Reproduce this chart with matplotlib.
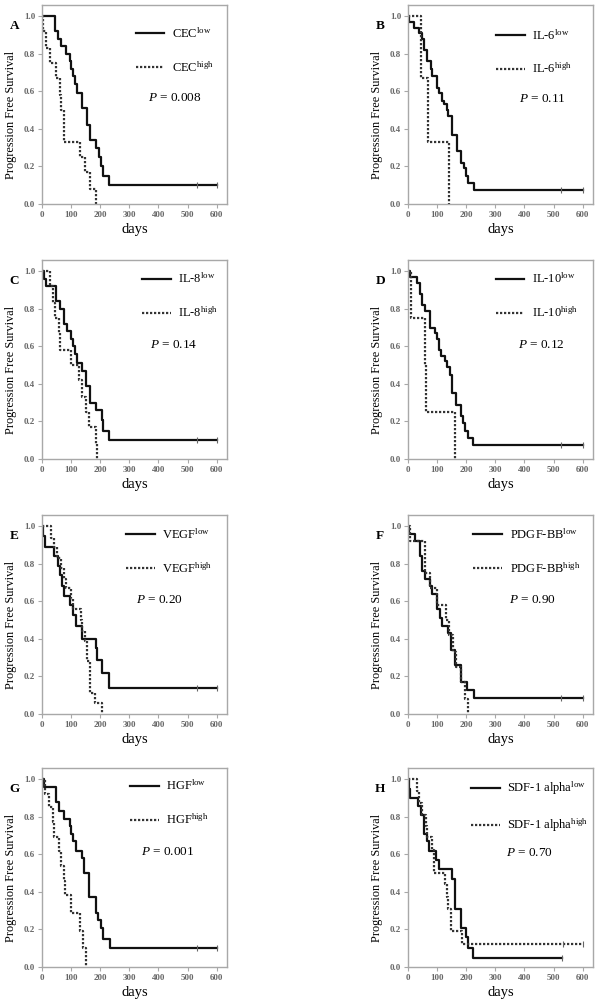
import numpy as np
import matplotlib
matplotlib.use("Agg")
import matplotlib.pyplot as plt

# ---- data (days, progression free survival) ----
CEC_LOW_DAYS = [0, 44, 55, 66, 84, 97, 101, 105, 112, 120, 139, 153, 166, 187, 195, 204, 210, 229, 600]
CEC_LOW_PFS = [1.0, 0.92, 0.88, 0.84, 0.80, 0.76, 0.72, 0.68, 0.64, 0.59, 0.51, 0.42, 0.34, 0.30, 0.25, 0.20, 0.15, 0.10, 0.10]
CEC_HIGH_DAYS = [0, 3, 15, 26, 49, 61, 67, 75, 130, 149, 164, 185]
CEC_HIGH_PFS = [1.0, 0.92, 0.83, 0.75, 0.67, 0.58, 0.50, 0.33, 0.25, 0.17, 0.08, 0.0]

IL6_LOW_DAYS = [0, 5, 20, 37, 48, 54, 65, 79, 84, 99, 105, 116, 122, 133, 138, 150, 167, 183, 191, 200, 206, 228, 600]
IL6_LOW_PFS = [1.0, 0.97, 0.94, 0.91, 0.88, 0.82, 0.76, 0.72, 0.68, 0.62, 0.59, 0.55, 0.53, 0.50, 0.47, 0.37, 0.28, 0.22, 0.19, 0.15, 0.11, 0.075, 0.075]
IL6_HIGH_DAYS = [0, 43, 68, 142]
IL6_HIGH_PFS = [1.0, 0.67, 0.33, 0.0]

IL8_LOW_DAYS = [0, 7, 15, 49, 63, 75, 86, 100, 105, 113, 120, 137, 151, 165, 185, 205, 211, 230, 600]
IL8_LOW_PFS = [1.0, 0.96, 0.92, 0.84, 0.80, 0.72, 0.68, 0.64, 0.60, 0.56, 0.51, 0.47, 0.39, 0.30, 0.26, 0.21, 0.15, 0.10, 0.10]
IL8_HIGH_DAYS = [0, 29, 37, 43, 57, 63, 100, 128, 137, 151, 162, 185, 190]
IL8_HIGH_PFS = [1.0, 0.92, 0.83, 0.75, 0.67, 0.58, 0.50, 0.42, 0.33, 0.25, 0.17, 0.08, 0.0]

IL10_LOW_DAYS = [0, 6, 32, 40, 49, 60, 77, 94, 100, 106, 115, 128, 134, 145, 151, 165, 183, 188, 197, 206, 225, 600]
IL10_LOW_PFS = [1.0, 0.97, 0.94, 0.88, 0.82, 0.79, 0.70, 0.67, 0.64, 0.58, 0.55, 0.52, 0.49, 0.45, 0.35, 0.29, 0.23, 0.19, 0.15, 0.11, 0.075, 0.075]
IL10_HIGH_DAYS = [0, 11, 60, 62, 162]
IL10_HIGH_PFS = [1.0, 0.75, 0.50, 0.25, 0.0]

VEGF_LOW_DAYS = [0, 5, 11, 42, 54, 63, 68, 76, 97, 105, 116, 139, 184, 190, 205, 230, 600]
VEGF_LOW_PFS = [1.0, 0.95, 0.89, 0.84, 0.79, 0.74, 0.68, 0.63, 0.58, 0.53, 0.47, 0.40, 0.35, 0.29, 0.22, 0.14, 0.14]
VEGF_HIGH_DAYS = [0, 31, 42, 51, 65, 74, 82, 99, 105, 133, 139, 148, 155, 164, 181, 207]
VEGF_HIGH_PFS = [1.0, 0.94, 0.89, 0.83, 0.78, 0.72, 0.67, 0.61, 0.56, 0.50, 0.44, 0.39, 0.28, 0.11, 0.06, 0.0]

PDGF_LOW_DAYS = [0, 5, 25, 40, 49, 60, 77, 83, 98, 100, 109, 116, 139, 149, 162, 181, 202, 228, 600]
PDGF_LOW_PFS = [1.0, 0.96, 0.92, 0.84, 0.76, 0.72, 0.68, 0.64, 0.60, 0.56, 0.51, 0.47, 0.43, 0.34, 0.26, 0.17, 0.13, 0.085, 0.085]
PDGF_HIGH_DAYS = [0, 8, 60, 77, 98, 129, 141, 153, 164, 181, 195, 205]
PDGF_HIGH_PFS = [1.0, 0.92, 0.75, 0.67, 0.58, 0.50, 0.42, 0.33, 0.25, 0.17, 0.08, 0.0]

HGF_LOW_DAYS = [0, 7, 49, 60, 75, 95, 100, 108, 117, 138, 146, 163, 186, 192, 203, 209, 232, 600]
HGF_LOW_PFS = [1.0, 0.96, 0.88, 0.83, 0.79, 0.75, 0.71, 0.67, 0.62, 0.58, 0.50, 0.375, 0.29, 0.25, 0.21, 0.15, 0.10, 0.10]
HGF_HIGH_DAYS = [0, 9, 24, 38, 41, 60, 64, 75, 80, 100, 131, 140, 152]
HGF_HIGH_PFS = [1.0, 0.92, 0.85, 0.77, 0.69, 0.62, 0.54, 0.46, 0.385, 0.29, 0.19, 0.10, 0.0]

SDF_LOW_DAYS = [0, 2, 8, 36, 46, 56, 65, 71, 96, 107, 150, 162, 182, 198, 205, 224, 528]
SDF_LOW_PFS = [1.0, 0.95, 0.90, 0.86, 0.81, 0.71, 0.67, 0.62, 0.57, 0.52, 0.47, 0.31, 0.21, 0.16, 0.10, 0.05, 0.05]
SDF_HIGH_DAYS = [0, 31, 39, 48, 61, 65, 82, 88, 91, 128, 133, 137, 148, 184, 600]
SDF_HIGH_PFS = [1.0, 0.94, 0.875, 0.81, 0.75, 0.69, 0.625, 0.56, 0.50, 0.44, 0.375, 0.31, 0.19, 0.125, 0.125]

CENSOR_LOW = [531, 600]
CENSOR_LOW_R = [527, 600]
CENSOR_SDF_LOW = [528]
CENSOR_SDF_HIGH = [531, 600]

MARKERS = ["CEC", "IL-6", "IL-8", "IL-10", "VEGF", "PDGF-BB", "HGF", "SDF-1 alpha"]
LETTERS = ["A", "B", "C", "D", "E", "F", "G", "H"]
P_VALUES = ["0.008", "0.11", "0.14", "0.12", "0.20", "0.90", "0.001", "0.70"]

# ---- layout: (legend x, legend first-row y, P text x, P text y) in data units ----
LAYOUT = [
    (322, 0.91, 365, 0.565),
    (303, 0.90, 380, 0.557),
    (344, 0.96, 371, 0.605),
    (301, 0.96, 378, 0.608),
    (289, 0.957, 323, 0.609),
    (225, 0.957, 346, 0.609),
    (303, 0.965, 340, 0.612),
    (216, 0.96, 338, 0.608),
]

plt.rcParams["font.family"] = ["Liberation Serif", "DejaVu Serif"]
plt.rcParams["mathtext.fontset"] = "custom"
plt.rcParams["mathtext.rm"] = "Liberation Serif"
plt.rcParams["mathtext.it"] = "Liberation Serif:italic"

YMAX = 1.06
XMAX = 635
SPINE = "#a8a8a8"


def km(ax, days, pfs, censor, label, solid):
    if solid:
        ax.step(days, pfs, where="post", color="#111111", lw=1.6, label=label)
    else:
        ax.step(days, pfs, where="post", color="#333333", lw=1.6, ls=(0, (1, 0.8)), label=label)
    if censor:
        d = np.asarray(days)
        idx = np.searchsorted(d, censor, side="right") - 1
        ax.plot(censor, np.asarray(pfs)[idx], ls="none", marker="|", ms=4,
                mew=0.8, color="#666666")


def main():
    series = [
        (CEC_LOW_DAYS, CEC_LOW_PFS, CENSOR_LOW, CEC_HIGH_DAYS, CEC_HIGH_PFS, []),
        (IL6_LOW_DAYS, IL6_LOW_PFS, CENSOR_LOW_R, IL6_HIGH_DAYS, IL6_HIGH_PFS, []),
        (IL8_LOW_DAYS, IL8_LOW_PFS, CENSOR_LOW, IL8_HIGH_DAYS, IL8_HIGH_PFS, []),
        (IL10_LOW_DAYS, IL10_LOW_PFS, CENSOR_LOW_R, IL10_HIGH_DAYS, IL10_HIGH_PFS, []),
        (VEGF_LOW_DAYS, VEGF_LOW_PFS, CENSOR_LOW, VEGF_HIGH_DAYS, VEGF_HIGH_PFS, []),
        (PDGF_LOW_DAYS, PDGF_LOW_PFS, CENSOR_LOW_R, PDGF_HIGH_DAYS, PDGF_HIGH_PFS, []),
        (HGF_LOW_DAYS, HGF_LOW_PFS, CENSOR_LOW, HGF_HIGH_DAYS, HGF_HIGH_PFS, []),
        (SDF_LOW_DAYS, SDF_LOW_PFS, CENSOR_SDF_LOW, SDF_HIGH_DAYS, SDF_HIGH_PFS, CENSOR_SDF_HIGH),
    ]

    fig = plt.figure(figsize=(6, 10), dpi=100)
    lefts = [0.07, 0.68]
    bottoms = [0.796, 0.541, 0.286, 0.033]
    w, h = 0.308, 0.199

    for i, (ld, ls_, lc, hd, hs, hc) in enumerate(series):
        ax = fig.add_axes([lefts[i % 2], bottoms[i // 2], w, h])
        name = MARKERS[i]
        km(ax, ld, ls_, lc, name + r"$^{\mathrm{low}}$", True)
        km(ax, hd, hs, hc, name + r"$^{\mathrm{high}}$", False)

        ax.set_xlim(0, XMAX)
        ax.set_ylim(0, YMAX)
        ax.set_xticks(np.arange(0, 601, 100))
        ax.set_yticks(np.arange(0, 1.01, 0.2))
        ax.set_yticklabels([f"{v:.1f}" for v in np.arange(0, 1.01, 0.2)])
        for s in ax.spines.values():
            s.set_color(SPINE)
            s.set_linewidth(1.0)
        ax.tick_params(direction="out", length=3, width=0.8, color=SPINE,
                       labelsize=6.5, labelcolor="#666666", pad=2)
        for t in ax.get_xticklabels() + ax.get_yticklabels():
            t.set_fontweight("bold")

        ax.set_xlabel("days", fontsize=10.5, labelpad=3)
        ax.set_ylabel("Progression Free Survival", fontsize=8.8)
        ax.yaxis.set_label_coords(-0.135, 0.45)

        ax.text(-0.15, 0.895, LETTERS[i], transform=ax.transAxes, fontsize=9.5,
                fontweight="bold", ha="center", va="center")

        lx, ly, px, py = LAYOUT[i]
        ax.legend(loc="upper left", bbox_to_anchor=(lx / XMAX, ly / YMAX + 0.035),
                  frameon=False, fontsize=9, handlelength=2.3, handletextpad=0.6,
                  labelspacing=1.55, borderpad=0, borderaxespad=0)
        ax.text(px, py, f"$P$ = {P_VALUES[i]}", fontsize=9.5, ha="left", va="center")

    fig.savefig("out.png", dpi=100)


if __name__ == "__main__":
    main()
